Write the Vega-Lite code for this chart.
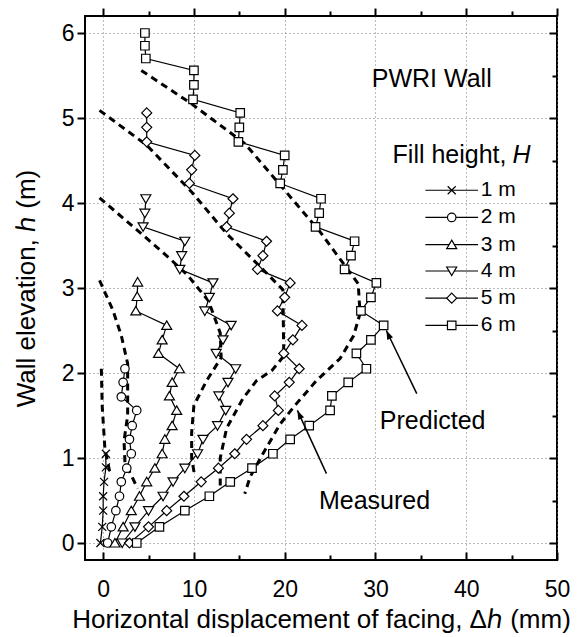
{
  "$schema": "https://vega.github.io/schema/vega-lite/v6.json",
  "width": 472,
  "height": 544,
  "autosize": {"type": "none"},
  "padding": {"left": 85, "top": 16, "right": 20, "bottom": 77},
  "config": {
    "font": "Liberation Sans",
    "view": {"stroke": "black", "strokeWidth": 2}
  },
  "datasets": {
    "measured": [
      {"H": "1 m", "h": 1.05, "x": 0.3}, {"H": "1 m", "h": 0.89, "x": 0.3}, {"H": "1 m", "h": 0.72, "x": 0.1},
      {"H": "1 m", "h": 0.55, "x": 0.0}, {"H": "1 m", "h": 0.38, "x": 0.0}, {"H": "1 m", "h": 0.19, "x": -0.1},
      {"H": "1 m", "h": 0.0, "x": -0.3},

      {"H": "2 m", "h": 2.05, "x": 2.4}, {"H": "2 m", "h": 1.89, "x": 2.2}, {"H": "2 m", "h": 1.72, "x": 2.0},
      {"H": "2 m", "h": 1.56, "x": 3.7}, {"H": "2 m", "h": 1.38, "x": 3.2}, {"H": "2 m", "h": 1.22, "x": 2.9},
      {"H": "2 m", "h": 1.05, "x": 3.1}, {"H": "2 m", "h": 0.88, "x": 2.6}, {"H": "2 m", "h": 0.72, "x": 2.0},
      {"H": "2 m", "h": 0.55, "x": 1.8}, {"H": "2 m", "h": 0.38, "x": 1.4}, {"H": "2 m", "h": 0.19, "x": 0.9},
      {"H": "2 m", "h": 0.0, "x": 0.5},

      {"H": "3 m", "h": 3.07, "x": 3.8}, {"H": "3 m", "h": 2.9, "x": 3.75}, {"H": "3 m", "h": 2.73, "x": 3.6},
      {"H": "3 m", "h": 2.56, "x": 7.0}, {"H": "3 m", "h": 2.39, "x": 6.5}, {"H": "3 m", "h": 2.23, "x": 6.1},
      {"H": "3 m", "h": 2.05, "x": 8.4}, {"H": "3 m", "h": 1.89, "x": 7.6}, {"H": "3 m", "h": 1.73, "x": 7.3},
      {"H": "3 m", "h": 1.56, "x": 8.1}, {"H": "3 m", "h": 1.38, "x": 7.6}, {"H": "3 m", "h": 1.22, "x": 6.8},
      {"H": "3 m", "h": 1.05, "x": 6.5}, {"H": "3 m", "h": 0.88, "x": 5.7}, {"H": "3 m", "h": 0.72, "x": 4.8},
      {"H": "3 m", "h": 0.55, "x": 4.0}, {"H": "3 m", "h": 0.38, "x": 3.1}, {"H": "3 m", "h": 0.19, "x": 2.2},
      {"H": "3 m", "h": 0.0, "x": 1.3},

      {"H": "4 m", "h": 4.05, "x": 4.7}, {"H": "4 m", "h": 3.88, "x": 4.6}, {"H": "4 m", "h": 3.72, "x": 4.4},
      {"H": "4 m", "h": 3.55, "x": 9.0}, {"H": "4 m", "h": 3.38, "x": 8.65}, {"H": "4 m", "h": 3.22, "x": 8.45},
      {"H": "4 m", "h": 3.06, "x": 12.1}, {"H": "4 m", "h": 2.89, "x": 11.7}, {"H": "4 m", "h": 2.73, "x": 11.2},
      {"H": "4 m", "h": 2.56, "x": 14.1}, {"H": "4 m", "h": 2.39, "x": 13.2}, {"H": "4 m", "h": 2.23, "x": 12.45},
      {"H": "4 m", "h": 2.05, "x": 14.6}, {"H": "4 m", "h": 1.89, "x": 13.75}, {"H": "4 m", "h": 1.73, "x": 12.75},
      {"H": "4 m", "h": 1.56, "x": 13.5}, {"H": "4 m", "h": 1.38, "x": 12.6}, {"H": "4 m", "h": 1.22, "x": 11.0},
      {"H": "4 m", "h": 1.05, "x": 10.4}, {"H": "4 m", "h": 0.88, "x": 9.0}, {"H": "4 m", "h": 0.72, "x": 7.7},
      {"H": "4 m", "h": 0.55, "x": 6.6}, {"H": "4 m", "h": 0.38, "x": 5.0}, {"H": "4 m", "h": 0.19, "x": 3.5},
      {"H": "4 m", "h": 0.0, "x": 2.1},

      {"H": "5 m", "h": 5.06, "x": 4.8}, {"H": "5 m", "h": 4.89, "x": 4.8}, {"H": "5 m", "h": 4.72, "x": 4.8},
      {"H": "5 m", "h": 4.56, "x": 10.1}, {"H": "5 m", "h": 4.39, "x": 9.75}, {"H": "5 m", "h": 4.23, "x": 9.5},
      {"H": "5 m", "h": 4.05, "x": 14.3}, {"H": "5 m", "h": 3.88, "x": 13.9}, {"H": "5 m", "h": 3.72, "x": 13.6},
      {"H": "5 m", "h": 3.55, "x": 18.0}, {"H": "5 m", "h": 3.38, "x": 17.6}, {"H": "5 m", "h": 3.22, "x": 17.0},
      {"H": "5 m", "h": 3.06, "x": 20.6}, {"H": "5 m", "h": 2.89, "x": 20.0}, {"H": "5 m", "h": 2.73, "x": 19.2},
      {"H": "5 m", "h": 2.56, "x": 21.9}, {"H": "5 m", "h": 2.39, "x": 20.9}, {"H": "5 m", "h": 2.23, "x": 19.9},
      {"H": "5 m", "h": 2.05, "x": 21.6}, {"H": "5 m", "h": 1.89, "x": 20.5}, {"H": "5 m", "h": 1.73, "x": 18.9},
      {"H": "5 m", "h": 1.56, "x": 19.3}, {"H": "5 m", "h": 1.38, "x": 17.6}, {"H": "5 m", "h": 1.22, "x": 15.8},
      {"H": "5 m", "h": 1.05, "x": 14.5}, {"H": "5 m", "h": 0.88, "x": 12.7}, {"H": "5 m", "h": 0.72, "x": 10.8},
      {"H": "5 m", "h": 0.55, "x": 8.9}, {"H": "5 m", "h": 0.38, "x": 7.0}, {"H": "5 m", "h": 0.19, "x": 5.0},
      {"H": "5 m", "h": 0.0, "x": 2.9},

      {"H": "6 m", "h": 6.0, "x": 4.6}, {"H": "6 m", "h": 5.85, "x": 4.6}, {"H": "6 m", "h": 5.7, "x": 4.7},
      {"H": "6 m", "h": 5.56, "x": 10.0}, {"H": "6 m", "h": 5.39, "x": 10.0}, {"H": "6 m", "h": 5.22, "x": 9.9},
      {"H": "6 m", "h": 5.06, "x": 15.1}, {"H": "6 m", "h": 4.89, "x": 15.0}, {"H": "6 m", "h": 4.72, "x": 14.9},
      {"H": "6 m", "h": 4.56, "x": 20.0}, {"H": "6 m", "h": 4.39, "x": 19.8}, {"H": "6 m", "h": 4.23, "x": 19.5},
      {"H": "6 m", "h": 4.05, "x": 24.0}, {"H": "6 m", "h": 3.88, "x": 23.8}, {"H": "6 m", "h": 3.72, "x": 23.4},
      {"H": "6 m", "h": 3.55, "x": 27.7}, {"H": "6 m", "h": 3.38, "x": 27.3}, {"H": "6 m", "h": 3.22, "x": 26.6},
      {"H": "6 m", "h": 3.06, "x": 30.1}, {"H": "6 m", "h": 2.89, "x": 29.5}, {"H": "6 m", "h": 2.73, "x": 28.4},
      {"H": "6 m", "h": 2.56, "x": 30.9}, {"H": "6 m", "h": 2.39, "x": 29.5}, {"H": "6 m", "h": 2.23, "x": 27.9},
      {"H": "6 m", "h": 2.05, "x": 29.0}, {"H": "6 m", "h": 1.89, "x": 27.0}, {"H": "6 m", "h": 1.73, "x": 25.2},
      {"H": "6 m", "h": 1.56, "x": 25.0}, {"H": "6 m", "h": 1.38, "x": 22.7}, {"H": "6 m", "h": 1.22, "x": 20.6},
      {"H": "6 m", "h": 1.05, "x": 18.7}, {"H": "6 m", "h": 0.88, "x": 16.4}, {"H": "6 m", "h": 0.72, "x": 14.0},
      {"H": "6 m", "h": 0.55, "x": 11.7}, {"H": "6 m", "h": 0.38, "x": 9.0}, {"H": "6 m", "h": 0.19, "x": 6.2},
      {"H": "6 m", "h": 0.0, "x": 3.7}
    ],
    "predicted": [
      {"H": "2 m", "h": 2.05, "x": -0.2}, {"H": "2 m", "h": 1.6, "x": -0.1}, {"H": "2 m", "h": 1.1, "x": 0.2},
      {"H": "2 m", "h": 0.8, "x": 0.8},

      {"H": "3 m", "h": 3.09, "x": -0.4}, {"H": "3 m", "h": 2.74, "x": 1.07}, {"H": "3 m", "h": 2.44, "x": 2.0},
      {"H": "3 m", "h": 2.11, "x": 2.7}, {"H": "3 m", "h": 1.5, "x": 2.7}, {"H": "3 m", "h": 1.2, "x": 2.3},
      {"H": "3 m", "h": 0.95, "x": 2.4}, {"H": "3 m", "h": 0.64, "x": 3.8},

      {"H": "4 m", "h": 4.06, "x": -0.4}, {"H": "4 m", "h": 3.64, "x": 4.2}, {"H": "4 m", "h": 3.35, "x": 7.3},
      {"H": "4 m", "h": 3.15, "x": 9.3}, {"H": "4 m", "h": 2.85, "x": 11.6}, {"H": "4 m", "h": 2.47, "x": 12.9},
      {"H": "4 m", "h": 2.18, "x": 13.0}, {"H": "4 m", "h": 1.91, "x": 11.4}, {"H": "4 m", "h": 1.62, "x": 10.0},
      {"H": "4 m", "h": 1.3, "x": 9.75}, {"H": "4 m", "h": 1.0, "x": 9.75}, {"H": "4 m", "h": 0.78, "x": 10.1},

      {"H": "5 m", "h": 5.09, "x": -0.4}, {"H": "5 m", "h": 4.68, "x": 4.8}, {"H": "5 m", "h": 4.13, "x": 9.75},
      {"H": "5 m", "h": 3.64, "x": 13.6}, {"H": "5 m", "h": 3.25, "x": 17.3}, {"H": "5 m", "h": 2.98, "x": 19.8},
      {"H": "5 m", "h": 2.2, "x": 19.9}, {"H": "5 m", "h": 2.03, "x": 18.6}, {"H": "5 m", "h": 1.91, "x": 16.9},
      {"H": "5 m", "h": 1.7, "x": 15.4}, {"H": "5 m", "h": 1.35, "x": 13.6}, {"H": "5 m", "h": 1.0, "x": 12.9},
      {"H": "5 m", "h": 0.66, "x": 12.9},

      {"H": "6 m", "h": 5.56, "x": 4.2}, {"H": "6 m", "h": 5.17, "x": 9.7}, {"H": "6 m", "h": 4.7, "x": 15.6},
      {"H": "6 m", "h": 4.15, "x": 20.0}, {"H": "6 m", "h": 3.66, "x": 23.9}, {"H": "6 m", "h": 3.05, "x": 28.1},
      {"H": "6 m", "h": 2.7, "x": 28.3}, {"H": "6 m", "h": 2.44, "x": 27.6}, {"H": "6 m", "h": 2.17, "x": 26.1},
      {"H": "6 m", "h": 1.91, "x": 23.5}, {"H": "6 m", "h": 1.64, "x": 21.3}, {"H": "6 m", "h": 1.4, "x": 19.5},
      {"H": "6 m", "h": 1.05, "x": 17.6}, {"H": "6 m", "h": 0.78, "x": 16.2}, {"H": "6 m", "h": 0.58, "x": 15.6}
    ],
    "keys": [
      {"H": "1 m", "h": 4.15},
      {"H": "2 m", "h": 3.83},
      {"H": "3 m", "h": 3.51},
      {"H": "4 m", "h": 3.2},
      {"H": "5 m", "h": 2.88},
      {"H": "6 m", "h": 2.56}
    ],
    "notes": [
      {"text": "PWRI Wall", "x": 36.2, "h": 5.46},
      {"text": "Predicted", "x": 36.3, "h": 1.43},
      {"text": "Measured", "x": 29.9, "h": 0.49}
    ],
    "legendTitle": [
      {"text": "Fill height,", "x": 45.1, "h": 4.56}
    ],
    "legendTitleSymbol": [
      {"text": "H", "x": 45.1, "h": 4.56}
    ],
    "arrows": [
      {"x": 34.55, "h": 1.757, "x2": 31.2, "h2": 2.5},
      {"x": 24.6, "h": 0.816, "x2": 21.4, "h2": 1.56}
    ]
  },
  "resolve": {
    "axis": {"x": "independent", "y": "independent"}
  },
  "layer": [
    {
      "data": {"name": "predicted"},
      "mark": {"type": "line", "stroke": "black", "strokeWidth": 3, "strokeDash": [7, 5], "strokeCap": "butt"},
      "encoding": {
        "x": {
          "field": "x", "type": "quantitative",
          "scale": {"domain": [-2, 50], "nice": false, "zero": false},
          "axis": {
            "orient": "bottom",
            "values": [0, 5, 10, 15, 20, 25, 30, 35, 40, 45, 50],
            "format": "d",
            "labelExpr": "datum.value % 10 === 0 ? datum.label : ''",
            "labelFontSize": 23,
            "labelColor": "black",
            "labelPadding": 26,
            "labelFlush": false,
            "labelOverlap": false,
            "tickSize": {"condition": {"test": "datum.value % 10 === 0", "value": -8}, "value": -5},
            "tickWidth": 2,
            "tickColor": "black",
            "domain": false,
            "grid": true,
            "gridColor": "#777777",
            "gridDash": [1, 3],
            "gridWidth": 1,
            "gridOpacity": {"condition": {"test": "datum.value % 10 === 0", "value": 1}, "value": 0},
            "title": "Horizontal displacement of facing, Δℎ (mm)",
            "titleFontSize": 26,
            "titleFontWeight": "normal",
            "titleColor": "black",
            "titlePadding": 2
          }
        },
        "y": {
          "field": "h", "type": "quantitative",
          "scale": {"domain": [-0.2, 6.2], "nice": false, "zero": false},
          "axis": {
            "orient": "left",
            "values": [0, 0.5, 1, 1.5, 2, 2.5, 3, 3.5, 4, 4.5, 5, 5.5, 6],
            "format": "d",
            "labelExpr": "datum.value % 1 === 0 ? datum.label : ''",
            "labelFontSize": 23,
            "labelColor": "black",
            "labelPadding": 3,
            "labelFlush": false,
            "labelOverlap": false,
            "tickSize": {"condition": {"test": "datum.value % 1 === 0", "value": 8}, "value": 5},
            "tickWidth": 2,
            "tickColor": "black",
            "domain": false,
            "grid": true,
            "gridColor": "#777777",
            "gridDash": [1, 3],
            "gridWidth": 1,
            "gridOpacity": {"condition": {"test": "datum.value % 1 === 0", "value": 1}, "value": 0},
            "title": "Wall elevation, ℎ (m)",
            "titleFontSize": 26,
            "titleFontWeight": "normal",
            "titleColor": "black",
            "titlePadding": 22
          }
        },
        "detail": {"field": "H"},
        "order": {"field": "h", "sort": "descending"}
      }
    },
    {
      "data": {"name": "measured"},
      "mark": {"type": "line", "stroke": "black", "strokeWidth": 1.2},
      "encoding": {
        "x": {
          "field": "x", "type": "quantitative",
          "axis": {
            "orient": "top",
            "values": [0, 5, 10, 15, 20, 25, 30, 35, 40, 45, 50],
            "labels": false,
            "tickSize": {"condition": {"test": "datum.value % 10 === 0", "value": 8}, "value": 5},
            "tickWidth": 2,
            "tickColor": "black",
            "domain": false,
            "grid": false,
            "title": null
          }
        },
        "y": {
          "field": "h", "type": "quantitative",
          "axis": {
            "orient": "right",
            "values": [0, 0.5, 1, 1.5, 2, 2.5, 3, 3.5, 4, 4.5, 5, 5.5, 6],
            "labels": false,
            "tickSize": {"condition": {"test": "datum.value % 1 === 0", "value": -8}, "value": -5},
            "tickWidth": 2,
            "tickColor": "black",
            "domain": false,
            "grid": false,
            "title": null
          }
        },
        "detail": {"field": "H"},
        "order": {"field": "h", "sort": "descending"}
      }
    },
    {
      "data": {"name": "measured"},
      "mark": {"type": "point", "filled": true, "fill": "white", "stroke": "black", "strokeWidth": 1.2, "size": 100, "opacity": 1},
      "encoding": {
        "x": {"field": "x", "type": "quantitative", "axis": null},
        "y": {"field": "h", "type": "quantitative", "axis": null},
        "shape": {
          "field": "H", "type": "nominal",
          "scale": {
            "domain": ["1 m", "2 m", "3 m", "4 m", "5 m", "6 m"],
            "range": [
              "M-0.8,-0.8L0.8,0.8M-0.8,0.8L0.8,-0.8",
              "M0.85,0A0.85,0.85 0 1,1 -0.85,0A0.85,0.85 0 1,1 0.85,0Z",
              "M0,-0.9L1,0.8L-1,0.8Z",
              "M0,0.9L1,-0.8L-1,-0.8Z",
              "M0,-1L1,0L0,1L-1,0Z",
              "M-0.85,-0.85H0.85V0.85H-0.85Z"
            ]
          },
          "legend": null
        }
      }
    },
    {
      "data": {"name": "notes"},
      "mark": {"type": "text", "fontSize": 25, "align": "center", "baseline": "middle", "color": "black"},
      "encoding": {
        "x": {"field": "x", "type": "quantitative", "axis": null},
        "y": {"field": "h", "type": "quantitative", "axis": null},
        "text": {"field": "text"}
      }
    },
    {
      "data": {"name": "arrows"},
      "mark": {"type": "rule", "stroke": "black", "strokeWidth": 1.5},
      "encoding": {
        "x": {"field": "x", "type": "quantitative", "axis": null},
        "y": {"field": "h", "type": "quantitative", "axis": null},
        "x2": {"field": "x2"},
        "y2": {"field": "h2"}
      }
    },
    {
      "data": {"name": "arrows"},
      "mark": {"type": "point", "shape": "M0,0L0.35,1L-0.35,1Z", "filled": true, "color": "black", "size": 324, "angle": -25, "opacity": 1},
      "encoding": {
        "x": {"field": "x2", "type": "quantitative", "axis": null},
        "y": {"field": "h2", "type": "quantitative", "axis": null}
      }
    },
    {
      "data": {"name": "legendTitle"},
      "mark": {"type": "text", "fontSize": 25, "align": "right", "baseline": "middle", "dx": -6, "color": "black"},
      "encoding": {
        "x": {"field": "x", "type": "quantitative", "axis": null},
        "y": {"field": "h", "type": "quantitative", "axis": null},
        "text": {"field": "text"}
      }
    },
    {
      "data": {"name": "legendTitleSymbol"},
      "mark": {"type": "text", "fontSize": 25, "fontStyle": "italic", "align": "left", "baseline": "middle", "color": "black"},
      "encoding": {
        "x": {"field": "x", "type": "quantitative", "axis": null},
        "y": {"field": "h", "type": "quantitative", "axis": null},
        "text": {"field": "text"}
      }
    },
    {
      "data": {"name": "keys"},
      "mark": {"type": "rule", "stroke": "black", "strokeWidth": 1.2},
      "encoding": {
        "x": {"datum": 35.5, "type": "quantitative", "axis": null},
        "x2": {"datum": 41.3},
        "y": {"field": "h", "type": "quantitative", "axis": null}
      }
    },
    {
      "data": {"name": "keys"},
      "mark": {"type": "point", "filled": true, "fill": "white", "stroke": "black", "strokeWidth": 1.2, "size": 100, "opacity": 1},
      "encoding": {
        "x": {"datum": 38.4, "type": "quantitative", "axis": null},
        "y": {"field": "h", "type": "quantitative", "axis": null},
        "shape": {"field": "H", "type": "nominal", "legend": null}
      }
    },
    {
      "data": {"name": "keys"},
      "mark": {"type": "text", "fontSize": 21, "align": "left", "baseline": "middle", "color": "black"},
      "encoding": {
        "x": {"datum": 41.6, "type": "quantitative", "axis": null},
        "y": {"field": "h", "type": "quantitative", "axis": null},
        "text": {"field": "H"}
      }
    }
  ]
}
